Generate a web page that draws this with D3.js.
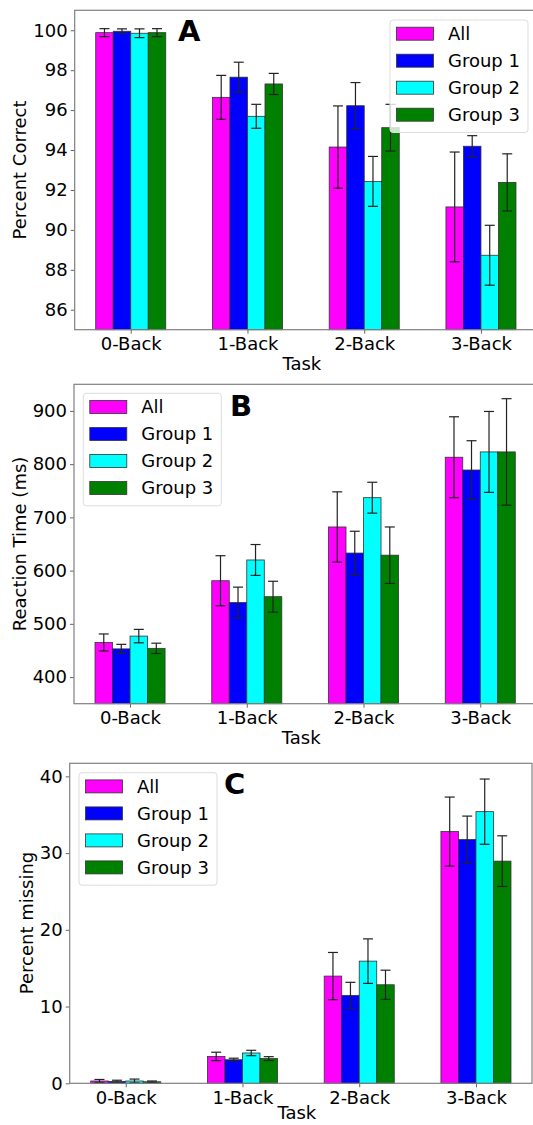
<!doctype html>
<html>
<head>
<script src="https://d3js.org/d3.v7.min.js"></script>
<style>
  body { margin: 0; background: #fff; }
  text { font-family: "DejaVu Sans", sans-serif; fill: #000; }
</style>
</head>
<body>
<svg width="533" height="1125" id="chart"></svg>
<script>
// data
var tasks = ["0-Back", "1-Back", "2-Back", "3-Back"];
var groups = ["All", "Group 1", "Group 2", "Group 3"];
var colors = ["#ff00ff", "#0000ff", "#00ffff", "#008000"];

// percent correct (rows = groups, cols = tasks)
var correct = [
  [99.88, 96.64, 94.15, 91.15],
  [99.95, 97.65, 96.22, 94.19],
  [99.85, 95.69, 92.43, 88.73],
  [99.88, 97.31, 95.12, 92.38]
];
var correctErr = [
  [0.2, 1.1, 2.06, 2.75],
  [0.12, 0.75, 1.16, 0.53],
  [0.22, 0.6, 1.25, 1.5],
  [0.2, 0.53, 1.17, 1.43]
];

// reaction time (ms)
var rt = [
  [465, 581, 682, 813],
  [453, 540, 633, 789],
  [477, 620, 737, 823],
  [454, 551, 629, 823]
];
var rtErr = [
  [16, 47, 66, 76],
  [8.5, 29, 41, 55],
  [12.6, 29, 29, 76],
  [9.7, 29, 53, 100]
];

// percent missing
var missing = [
  [0.3, 3.5, 13.97, 32.8],
  [0.25, 3.07, 11.46, 31.77],
  [0.3, 3.95, 15.92, 35.4],
  [0.2, 3.22, 12.84, 28.95]
];
var missingErr = [
  [0.2, 0.55, 3.08, 4.5],
  [0.15, 0.2, 1.7, 3.05],
  [0.25, 0.35, 2.9, 4.25],
  [0.1, 0.25, 1.9, 3.3]
];

var yTicksA = [86, 88, 90, 92, 94, 96, 98, 100];
var yTicksB = [400, 500, 600, 700, 800, 900];
var yTicksC = [0, 10, 20, 30, 40];

var svg = d3.select("#chart");
var barW = 0.15;
var fs = "18px";

var panels = [
  { letter: "A", ylabel: "Percent Correct", values: correct, errs: correctErr, yDomain: [85, 101], yTicks: yTicksA,
    left: 74.7, right: 537, top: 10.3, bottom: 329.7, letterX: 178, letterY: 41, taskY: 40,
    legendX: 390, legendY: 20, ylabelX: 20, ylabelY: 170 },
  { letter: "B", ylabel: "Reaction Time (ms)", values: rt, errs: rtErr, yDomain: [350, 950], yTicks: yTicksB,
    left: 74, right: 536.3, top: 384.3, bottom: 703.7, letterX: 230, letterY: 416, taskY: 40,
    legendX: 83.3, legendY: 393.3, ylabelX: 20, ylabelY: 544 },
  { letter: "C", ylabel: "Percent missing", values: missing, errs: missingErr, yDomain: [0, 41.7], yTicks: yTicksC,
    left: 69.7, right: 532, top: 763.3, bottom: 1083.3, letterX: 224, letterY: 794, taskY: 36,
    legendX: 79, legendY: 772.7, ylabelX: 27, ylabelY: 923 }
];

panels.forEach(function (p) {
  var x = d3.scaleLinear().domain([-0.48, 3.48]).range([p.left, p.right]);
  var y = d3.scaleLinear().domain(p.yDomain).range([p.bottom, p.top]);
  var g = svg.append("g");

  // bars
  groups.forEach(function (grp, gi) {
    var gg = g.append("g");
    gg.selectAll("rect")
      .data(p.values[gi])
      .enter()
      .append("rect")
      .attr("x", function (d, i) { return x(i + (gi - 2) * barW); })
      .attr("y", function (d) { return y(d); })
      .attr("width", x(barW) - x(0))
      .attr("height", function (d) { return y(p.yDomain[0]) - y(d); })
      .style("fill", colors[gi])
      .style("stroke", "#333")
      .style("stroke-width", 0.8);

    // error bars
    var errs = p.errs[gi];
    p.values[gi].forEach(function (v, i) {
      var cx = x(i + (gi - 1.5) * barW);
      var lo = y(v - errs[i]), hi = y(v + errs[i]);
      gg.append("line").attr("x1", cx).attr("x2", cx).attr("y1", lo).attr("y2", hi)
        .style("stroke", "#222").style("stroke-width", 1.2);
      [lo, hi].forEach(function (yy) {
        gg.append("line").attr("x1", cx - 5).attr("x2", cx + 5).attr("y1", yy).attr("y2", yy)
          .style("stroke", "#222").style("stroke-width", 1.2);
      });
    });
  });

  // axes
  var xAxis = g.append("g")
    .attr("transform", "translate(0," + p.bottom + ")")
    .call(d3.axisBottom(x).tickValues([0, 1, 2, 3]).tickFormat(function (d) { return tasks[d]; }).tickSize(4).tickPadding(4));
  var yAxis = g.append("g")
    .attr("transform", "translate(" + p.left + ",0)")
    .call(d3.axisLeft(y).tickValues(p.yTicks).tickSize(4).tickPadding(3));
  [xAxis, yAxis].forEach(function (a) {
    a.select(".domain").remove();
    a.selectAll("line").style("stroke", "#666");
    a.selectAll("text").style("font-size", fs).style("font-family", "DejaVu Sans").attr("fill", "#000");
  });

  // frame
  g.append("rect")
    .attr("x", p.left).attr("y", p.top)
    .attr("width", p.right - p.left).attr("height", p.bottom - p.top)
    .style("fill", "none").style("stroke", "#808080").style("stroke-width", 1.2);

  // labels
  g.append("text")
    .attr("x", (p.left + p.right) / 2 - 4)
    .attr("y", p.bottom + p.taskY)
    .attr("text-anchor", "middle")
    .style("font-size", fs)
    .text("Task");

  g.append("text")
    .attr("text-anchor", "middle")
    .attr("transform", "translate(" + (p.ylabelX + 6) + "," + p.ylabelY + ")rotate(-90)")
    .style("font-size", fs)
    .text(p.ylabel);

  g.append("text")
    .attr("x", p.letterX)
    .attr("y", p.letterY)
    .style("font-size", "29px")
    .style("font-weight", "bold")
    .text(p.letter);

  // legend
  var lg = g.append("g").attr("transform", "translate(" + p.legendX + "," + p.legendY + ")");
  lg.append("rect")
    .attr("width", 138).attr("height", 112.5).attr("rx", 3)
    .style("fill", "#fff").style("fill-opacity", 0.8)
    .style("stroke", "#ddd").style("stroke-width", 1);
  groups.forEach(function (grp, gi) {
    var cy = 13.7 + gi * 27;
    lg.append("rect")
      .attr("x", 6.5).attr("y", cy - 6.5).attr("width", 37).attr("height", 13)
      .style("fill", colors[gi]).style("stroke", "#333").style("stroke-width", 0.8);
    lg.append("text")
      .attr("x", 58).attr("y", cy + 6.5)
      .style("font-size", fs)
      .text(grp);
  });
});
</script>
</body>
</html>
